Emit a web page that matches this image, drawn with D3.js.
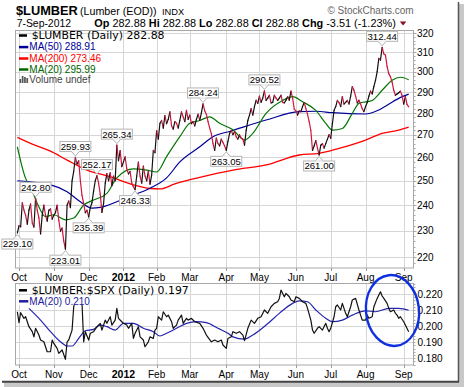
<!DOCTYPE html>
<html>
<head>
<meta charset="utf-8">
<script src="https://cdn.jsdelivr.net/npm/d3@7"></script>
<style>
  body { margin: 0; background: #fff; }
  svg { display: block; font-family: "Liberation Sans", Arial, sans-serif; }
</style>
</head>
<body>
<div id="chart"></div>
<script>
// daily closes, index 0 = 30-Sep-2011 ... 236 = 7-Sep-2012 (trading days)
var closes = [
  229.1, 232, 231.5, 241, 238, 236, 232.5, 238, 240.5, 233,
  231.4, 242.8, 238, 235, 228.8, 236, 240, 236, 233.7, 238,
  238.5, 234.5, 236, 237, 240, 234, 229.8, 231, 226, 223.01,
  240, 241.7, 239, 250, 254, 259.93, 257, 258.5, 250, 244,
  240.6, 237, 238, 235.39, 239, 241, 245.8, 250, 252.17, 249,
  244.5, 237.1, 240.6, 249, 253, 250, 253.3, 248, 252, 250,
  265.34, 258.5, 262.9, 256, 258, 260.2, 255, 252.9, 254, 249,
  247.5, 246.33, 252, 257.9, 252, 249, 256.2, 252, 250, 254,
  248.6, 252.4, 263, 262, 271.9, 268, 275.2, 276.5, 273, 278.8,
  275, 277, 280.5, 274.1, 272.5, 276, 275.2, 273, 276.5, 280.5,
  278.1, 276, 281.2, 277, 279, 275, 276, 274, 277, 279.4,
  276.5, 280, 284.24, 281, 279.3, 276, 273, 270.5, 266, 263,
  268.5, 266, 265, 268, 266.5, 265, 263.05, 267, 270.6, 271.9,
  270, 271.4, 269, 268, 270, 268.5, 268, 265.3, 272, 276.5,
  279, 282, 279, 283, 286, 284.5, 288, 285, 287, 290.52,
  285.9, 287, 288.4, 284.7, 285, 288.4, 287, 285.9, 287, 288.4,
  285, 284.7, 286, 287.7, 286, 290.4, 287, 281.8, 281, 279,
  281, 280.6, 283, 284.9, 282, 279.3, 276, 271.9, 263, 265,
  267.4, 264, 261.00, 265.3, 266, 264, 266, 268, 270, 268.4,
  275, 281.2, 283, 285.9, 284.9, 283, 287.7, 284.2, 285, 285.9,
  284.2, 288, 292.6, 290.8, 288, 284.7, 286, 284.2, 282, 280.6,
  283, 284.9, 288, 290.4, 289, 292.6, 295.7, 300, 306.7, 305.8,
  312.44, 309, 308.4, 302.5, 299, 297.5, 294.8, 290.8, 288.4, 289,
  289.6, 290.4, 288.4, 284.2, 287.7, 284, 282.88
];

var ma50 = [[0,250],[20,248.3],[30,245.5],[38,241.4],[45,238.8],[50,239.1],[60,241.4],[70,244.1],
  [80,246.9],[90,251.2],[98,258],[110,264.6],[118,269.1],[129,271.7],[150,276.7],[170,280.6],
  [180,280.8],[190,280.1],[210,279.5],[218,281.4],[230,286.9],[236,288.91]];

var ma200 = [[0,268.8],[9,265.8],[20,262.7],[30,258.8],[42,254.5],[56,251.7],[70,248.3],[80,246.8],
  [86,246.6],[95,248.7],[110,251.4],[130,254.5],[150,256.7],[170,261],[182,261.7],[194,263.9],
  [210,267.6],[220,270.6],[230,272.1],[236,273.46]];

var ma20 = [[0,264.6],[5,251],[8,247.5],[12,240.8],[17,235.5],[22,236.2],[29,234.2],[34,234.9],
  [40,240.1],[46,242.1],[54,244.8],[60,251.2],[70,255],[78,254.5],[84,253.7],[90,260.3],[98,269.1],
  [104,275.2],[110,276.5],[116,278.2],[122,275.2],[130,272.2],[137,267.6],[142,270.6],[150,279.8],
  [160,285.9],[166,287.7],[172,285.3],[180,281.2],[186,275.2],[190,272.1],[196,272.8],[202,279.8],
  [206,284.5],[214,285.9],[220,290.8],[226,295.7],[231,297.2],[236,295.99]];

// $LUMBER:$SPX ratio
var ratio = [[0,.2089],[1,.2021],[2,.2083],[4,.2048],[5,.2058],[7,.1996],[9,.1965],[10,.1933],[11,.1986],
  [13,.1944],[14,.1913],[16,.1902],[18,.1840],[20,.1840],[21,.1913],[22,.1892],[24,.1861],[25,.1830],
  [27,.1851],[29,.1793],[30,.1902],[31,.1913],[33,.1975],[34,.2120],[35,.2165],[36,.2175],[37,.2160],
  [38,.2170],[39,.2140],[40,.1902],[41,.1965],[43,.1913],[44,.1955],[46,.1965],[48,.1996],[50,.2017],
  [51,.1975],[53,.2037],[54,.2017],[56,.2058],[57,.2006],[59,.2037],[60,.2110],[61,.2048],[63,.2027],
  [64,.2017],[66,.2006],[67,.1986],[69,.2017],[70,.1923],[71,.1955],[73,.1996],[74,.1933],[76,.1913],
  [77,.1871],[79,.1902],[80,.1933],[82,.1923],[83,.1975],[84,.1986],[85,.2058],[87,.2037],[88,.2089],
  [90,.2058],[91,.2068],[93,.2027],[94,.1986],[96,.2006],[97,.2037],[99,.2068],[100,.2017],[102,.2048],
  [103,.2037],[105,.2048],[107,.2027],[110,.2017],[112,.1986],[114,.1944],[117,.1902],[119,.1913],
  [121,.1902],[123,.1913],[124,.1882],[126,.1861],[127,.1923],[129,.1933],[130,.1965],[132,.1955],
  [134,.1965],[136,.1944],[137,.1909],[139,.1986],[141,.2037],[143,.2017],[145,.2048],[147,.2058],
  [149,.2100],[151,.2079],[153,.2120],[155,.2141],[157,.2151],[158,.2172],[159,.2224],[161,.2182],
  [162,.2203],[164,.2182],[165,.2162],[167,.2151],[168,.2182],[170,.2172],[172,.2151],[174,.2141],
  [175,.2110],[177,.2037],[178,.1975],[179,.1955],[181,.1986],[182,.1996],[184,.1975],[186,.2017],
  [187,.1986],[188,.1965],[189,.1986],[191,.2058],[192,.2120],[193,.2131],[195,.2100],[196,.2141],
  [198,.2079],[199,.2058],[201,.2120],[202,.2162],[204,.2172],[206,.2100],[207,.2068],[208,.2037],
  [210,.2037],[211,.2068],[212,.2048],[214,.2058],[215,.2120],[217,.2172],[218,.2193],[219,.2213],
  [220,.2187],[221,.2172],[223,.2141],[224,.2110],[225,.2089],[227,.2100],[228,.2079],[229,.2068],
  [230,.2048],[231,.2058],[233,.2027],[234,.2006],[236,.1965]];

var ratioMa20 = [[7,.2110],[14,.2037],[20,.1965],[26,.1902],[30,.1876],[33,.1876],[37,.1923],[41,.1971],
  [46,.1979],[50,.2006],[54,.1996],[59,.1975],[64,.2017],[70,.2017],[76,.1986],[82,.1965],[86,.1938],
  [90,.1955],[96,.1986],[102,.2017],[108,.2027],[114,.2021],[121,.1986],[127,.1955],[130,.1933],
  [137,.1919],[142,.1944],[150,.2006],[158,.2079],[166,.2141],[170,.2157],[175,.2151],[180,.2100],
  [186,.2048],[190,.2027],[196,.2037],[202,.2068],[210,.2095],[216,.2089],[224,.2110],[230,.2110],
  [236,.2098]];

var monthLabels = ["Oct","Nov","Dec","2012","Feb","Mar","Apr","May","Jun","Jul","Aug","Sep"];
var monthIdx = [1, 22, 43, 64, 84, 104, 126, 146, 168, 189, 210, 233];
var priceTicks = [220, 230, 240, 250, 260, 270, 280, 290, 300, 310, 320];
var ratioTicks = [0.18, 0.19, 0.20, 0.21, 0.22];

var quote = [["Op", "282.88"], ["Hi", "282.88"], ["Lo", "282.88"], ["Cl", "282.88"], ["Chg", "-3.51 (-1.23%)"]];

var peakTags = [11, 35, 48, 60, 112, 149, 220];
var troughTags = [0, 29, 43, 71, 126, 182];

var W = 464, H = 387;
var main = {left: 15.5, right: 413.5, top: 30.5, bottom: 268};
var low = {left: 15.5, right: 413.5, top: 283.5, bottom: 365};

var x = d3.scaleLinear().domain([1, 233]).range([19, 403.7]);
var y = d3.scaleLog().domain([220, 320]).range([257.3, 33]);
var y2 = d3.scaleLinear().domain([0.18, 0.22]).range([358.2, 293.9]);
var fmt = d3.format(".2f");

var svg = d3.select("#chart").append("svg")
    .attr("width", W).attr("height", H);

// frame shadow
svg.append("rect").attr("x", 459).attr("y", 4).attr("width", 5).attr("height", 382).attr("fill", "#c8c8c8");
svg.append("rect").attr("x", 4).attr("y", 382).attr("width", 460).attr("height", 5).attr("fill", "#c8c8c8");
svg.append("line").attr("x1", 458.5).attr("x2", 458.5).attr("y1", 2).attr("y2", 382)
    .attr("stroke", "#555").attr("stroke-width", 1.5);
svg.append("line").attr("x1", 2).attr("x2", 459).attr("y1", 381.7).attr("y2", 381.7)
    .attr("stroke", "#444").attr("stroke-width", 2);

var defs = svg.append("defs");
defs.append("clipPath").attr("id", "clipMain").append("rect")
    .attr("x", main.left).attr("y", main.top)
    .attr("width", main.right - main.left).attr("height", main.bottom - main.top);
defs.append("clipPath").attr("id", "clipLow").append("rect")
    .attr("x", low.left).attr("y", low.top)
    .attr("width", low.right - low.left).attr("height", low.bottom - low.top);

// ---- header
svg.append("text").attr("x", 16).attr("y", 15.3)
    .style("font-size", "12.8px").style("font-weight", "bold").text("$LUMBER");
svg.append("text").attr("x", 80).attr("y", 15)
    .style("font-size", "10.7px").text("(Lumber (EOD))");
svg.append("text").attr("x", 162).attr("y", 15)
    .style("font-size", "9.3px").text("INDX");
svg.append("text").attr("x", 413.7).attr("y", 13.5).attr("text-anchor", "end")
    .style("font-size", "10px").attr("fill", "#666").text("\u00a9 StockCharts.com");

svg.append("text").attr("x", 16.7).attr("y", 26.6)
    .style("font-size", "10.4px").text("7-Sep-2012");
var q = svg.append("text").attr("x", 94.3).attr("y", 26.6).style("font-size", "10.9px");
quote.forEach(function(p, i) {
  q.append("tspan").style("font-weight", "bold").text((i ? " " : "") + p[0]);
  q.append("tspan").text(" " + p[1]);
});
var qEnd = 94.3 + q.node().getComputedTextLength();
svg.append("path")
    .attr("d", "M" + (qEnd + 4) + ",21.5l6.5,0l-3.25,4Z")
    .attr("fill", "#8b0a2a");

// ---- grids
function grid(p, yScale, ticks) {
  var g = svg.append("g");
  g.selectAll(".h").data(ticks).enter().append("line")
      .attr("x1", p.left).attr("x2", p.right)
      .attr("y1", function(d) { return Math.round(yScale(d)) + 0.5; })
      .attr("y2", function(d) { return Math.round(yScale(d)) + 0.5; })
      .attr("stroke", "#d6d6d6");
  g.selectAll(".v").data(monthIdx).enter().append("line")
      .attr("y1", p.top).attr("y2", p.bottom)
      .attr("x1", function(d) { return Math.round(x(d)) + 0.5; })
      .attr("x2", function(d) { return Math.round(x(d)) + 0.5; })
      .attr("stroke", "#d6d6d6");
  g.append("rect").attr("x", p.left).attr("y", p.top)
      .attr("width", p.right - p.left).attr("height", p.bottom - p.top)
      .attr("fill", "none").attr("stroke", "#a8a8a8");
  // month ticks
  g.selectAll(".mt").data(monthIdx).enter().append("line")
      .attr("y1", p.bottom).attr("y2", p.bottom + 3)
      .attr("x1", function(d) { return Math.round(x(d)) + 0.5; })
      .attr("x2", function(d) { return Math.round(x(d)) + 0.5; })
      .attr("stroke", "#999");
  return g;
}
grid(main, y, priceTicks);
grid(low, y2, ratioTicks);

// right axis minor ticks
var minorP = d3.range(218, 322, 2);
svg.selectAll(".mp").data(minorP).enter().append("line")
    .attr("x1", main.right).attr("x2", function(d) { return d % 10 === 0 ? main.right + 3 : main.right + 2; })
    .attr("y1", function(d) { return Math.round(y(d)) + 0.5; })
    .attr("y2", function(d) { return Math.round(y(d)) + 0.5; })
    .attr("stroke", "#aaa");
var minorR = d3.range(0.176, 0.2265, 0.002);
svg.selectAll(".mr").data(minorR).enter().append("line")
    .attr("x1", low.right).attr("x2", low.right + 2)
    .attr("y1", function(d) { return Math.round(y2(d)) + 0.5; })
    .attr("y2", function(d) { return Math.round(y2(d)) + 0.5; })
    .attr("stroke", "#aaa");

// axis labels
svg.selectAll(".pl").data(priceTicks).enter().append("text")
    .attr("x", 417).attr("y", function(d) { return y(d) + 3.6; })
    .style("font-size", "10px").text(function(d) { return d; });
svg.selectAll(".rl").data(ratioTicks).enter().append("text")
    .attr("x", 417.5).attr("y", function(d) { return y2(d) + 3.6; })
    .style("font-size", "10px").text(function(d) { return d3.format(".3f")(d); });

[280.5, 378].forEach(function(by) {
  svg.selectAll(null).data(monthLabels).enter().append("text")
      .attr("x", function(d, i) { return x(monthIdx[i]); })
      .attr("y", by)
      .attr("text-anchor", "middle")
      .style("font-size", function(d) { return d === "2012" ? "10.5px" : "10px"; })
      .style("font-weight", function(d) { return d === "2012" ? "bold" : "normal"; })
      .text(function(d) { return d; });
});

// ---- main panel series
var gm = svg.append("g").attr("clip-path", "url(#clipMain)");
var maLine = d3.line()
    .x(function(d) { return x(d[0]); })
    .y(function(d) { return y(d[1]); })
    .curve(d3.curveMonotoneX);

gm.append("path").datum(ma200).attr("d", maLine)
    .attr("fill", "none").attr("stroke", "#ff0000").attr("stroke-width", 1.3);
gm.append("path").datum(ma50).attr("d", maLine)
    .attr("fill", "none").attr("stroke", "#000099").attr("stroke-width", 1.2);
gm.append("path").datum(ma20).attr("d", maLine)
    .attr("fill", "none").attr("stroke", "#007700").attr("stroke-width", 1.2);

var segs = d3.range(1, closes.length);
gm.selectAll(".seg").data(segs).enter().append("line")
    .attr("x1", function(i) { return x(i - 1); })
    .attr("y1", function(i) { return y(closes[i - 1]); })
    .attr("x2", function(i) { return x(i); })
    .attr("y2", function(i) { return y(closes[i]); })
    .attr("stroke", function(i) { return closes[i] < closes[i - 1] ? "#d0143c" : "#111"; })
    .attr("stroke-width", 1.2)
    .attr("stroke-linecap", "round");

// price tags
var tags = svg.append("g");
function priceTag(i, above) {
  var px = x(i), py = y(closes[i]);
  var bw = 31, bh = 10;
  var by = above ? py - 6 - bh : py + 6;
  var baseY = above ? by + bh : by;
  var tipY = above ? py - 1.5 : py + 1.5;
  tags.append("path")
      .attr("d", "M" + (px - 4) + "," + baseY + "L" + px + "," + tipY + "L" + (px + 4) + "," + baseY)
      .attr("fill", "#fff").attr("stroke", "#b0b0b0");
  tags.append("rect").attr("x", px - bw / 2).attr("y", by)
      .attr("width", bw).attr("height", bh)
      .attr("fill", "#fff").attr("stroke", "#b4b4b4");
  tags.append("line").attr("x1", px - 3.5).attr("x2", px + 3.5)
      .attr("y1", baseY).attr("y2", baseY).attr("stroke", "#fff");
  tags.append("text").attr("x", px).attr("y", by + bh / 2 + 3.4)
      .attr("text-anchor", "middle").style("font-size", "9.6px")
      .text(fmt(closes[i]));
}
peakTags.forEach(function(i) { priceTag(i, true); });
troughTags.forEach(function(i) { priceTag(i, false); });

// main legend
var legMain = [
  {t: "$LUMBER (Daily) 282.88", c: "#000", y: 35, big: true},
  {t: "MA(50) 288.91", c: "#000099", y: 46.6},
  {t: "MA(200) 273.46", c: "#ff0000", y: 58},
  {t: "MA(20) 295.99", c: "#006600", y: 69}
];
function legend(rows, bg) {
  rows.forEach(function(r) {
    var t = svg.append("text").attr("x", r.big ? 31.7 : 29.3).attr("y", r.y + 3.8)
        .attr("fill", r.c)
        .style("font-family", r.big ? "'DejaVu Sans', Verdana, sans-serif" : null)
        .style("font-size", r.big ? "10.9px" : "10px")
        .text(r.t);
    if (bg) {
      var w = t.node().getComputedTextLength();
      svg.insert("rect", function() { return t.node(); })
          .attr("x", 18).attr("y", r.y - 4.5).attr("width", w + (r.big ? 14 : 12)).attr("height", r.big ? 8 : 8.5)
          .attr("fill", "#fff");
    }
    svg.append("line").attr("x1", 19).attr("x2", r.big ? 27 : 28.3)
        .attr("y1", r.y + 0.5).attr("y2", r.y + 0.5)
        .attr("stroke", r.c).attr("stroke-width", 2.5);
  });
}
legend(legMain, false);
// volume row
svg.append("text").attr("x", 29.3).attr("y", 83.2).attr("fill", "#444")
    .style("font-size", "10px").text("Volume undef");
[[19.5, 4], [21.8, 7], [24.1, 6], [26.4, 5]].forEach(function(b) {
  svg.append("rect").attr("x", b[0]).attr("y", 83 - b[1]).attr("width", 1.7).attr("height", b[1]).attr("fill", "#555");
});

// ---- lower panel
var gl = svg.append("g").attr("clip-path", "url(#clipLow)");
var rLine = d3.line()
    .x(function(d) { return x(d[0]); })
    .y(function(d) { return y2(d[1]); });
gl.append("path").datum(ratioMa20).attr("d", rLine.curve(d3.curveMonotoneX))
    .attr("fill", "none").attr("stroke", "#2424b0").attr("stroke-width", 1.2);
gl.append("path").datum(ratio).attr("d", rLine.curve(d3.curveLinear))
    .attr("fill", "none").attr("stroke", "#111").attr("stroke-width", 1.2)
    .attr("stroke-linejoin", "round");

legend([
  {t: "$LUMBER:$SPX (Daily) 0.197", c: "#000", y: 289.8, big: true},
  {t: "MA(20) 0.210", c: "#2020a0", y: 300.8}
], true);

// hand drawn annotation
svg.append("ellipse")
    .attr("cx", 392.5).attr("cy", 310.5).attr("rx", 26.5).attr("ry", 35.5)
    .attr("transform", "rotate(-6,392.5,310.5)")
    .attr("fill", "none").attr("stroke", "#1030e0").attr("stroke-width", 2.4);
</script>
</body>
</html>
